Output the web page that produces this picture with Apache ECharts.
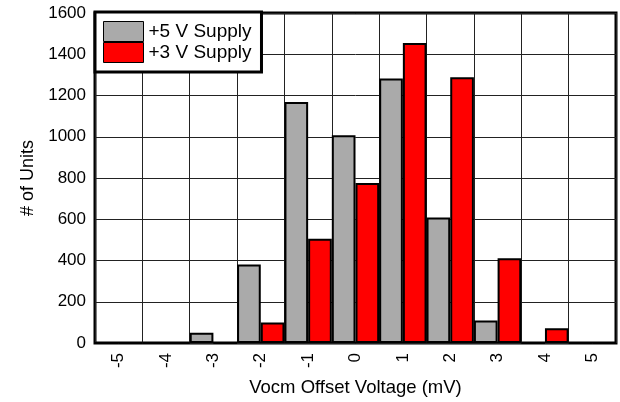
<!DOCTYPE html>
<html><head><meta charset="utf-8">
<script src="https://cdn.jsdelivr.net/npm/echarts@6/dist/echarts.min.js"></script>
<style>html,body{margin:0;padding:0;background:#fff}#c{width:620px;height:402px}</style>
</head><body><div id="c"></div>
<script>
const categories = ['-5','-4','-3','-2','-1','0','1','2','3','4','5'];
const supply5V = [0, 0, 50, 381, 1168, 1007, 1282, 609, 109, 0, 0];
const supply3V = [0, 0, 0, 100, 506, 776, 1455, 1288, 411, 71, 0];
const yTicks = [0, 1600, 200];

const chart = echarts.init(document.getElementById('c'));
const font = 'Liberation Sans, Arial, sans-serif';
chart.setOption({
  animation: false,
  grid: {left: 95, right: 4, top: 13, bottom: 57, show: true, borderColor: '#000', borderWidth: 3, backgroundColor: '#fff', z: 0},
  legend: {
    orient: 'vertical', left: 95, top: 12, itemWidth: 40, itemHeight: 20, itemGap: 0,
    padding: [9, 10, 9, 8], backgroundColor: '#fff', borderColor: '#000', borderWidth: 3,
    textStyle: {fontFamily: font, fontSize: 19, color: '#000', lineHeight: 20},
    icon: 'rect',
    itemStyle: {borderColor: '#000', borderWidth: 1},
    data: ['+5 V Supply', '+3 V Supply']
  },
  xAxis: {
    type: 'category', data: categories,
    name: 'Vocm Offset Voltage (mV)', nameLocation: 'middle', nameGap: 35,
    nameTextStyle: {fontFamily: font, fontSize: 18.5, color: '#000'},
    axisLine: {show: false}, axisTick: {show: false},
    axisLabel: {rotate: 90, fontFamily: font, fontSize: 17, color: '#000', margin: 10},
    splitLine: {show: true, interval: 0, lineStyle: {color: '#222', width: 1}}
  },
  yAxis: {
    type: 'value', min: yTicks[0], max: yTicks[1], interval: yTicks[2],
    name: '# of Units', nameLocation: 'middle', nameGap: 57,
    nameTextStyle: {fontFamily: font, fontSize: 18, color: '#000'},
    axisLine: {show: false}, axisTick: {show: false},
    axisLabel: {fontFamily: font, fontSize: 17, color: '#000', margin: 9, formatter: v => String(v)},
    splitLine: {lineStyle: {color: '#222', width: 1}}
  },
  series: [
    {name: '+5 V Supply', type: 'bar', data: supply5V, barGap: '0%', barCategoryGap: '0%',
     itemStyle: {color: '#aaaaaa', borderColor: '#000', borderWidth: 2}},
    {name: '+3 V Supply', type: 'bar', data: supply3V, barGap: '0%', barCategoryGap: '0%',
     itemStyle: {color: '#ff0000', borderColor: '#000', borderWidth: 2}}
  ]
});
</script></body></html>
